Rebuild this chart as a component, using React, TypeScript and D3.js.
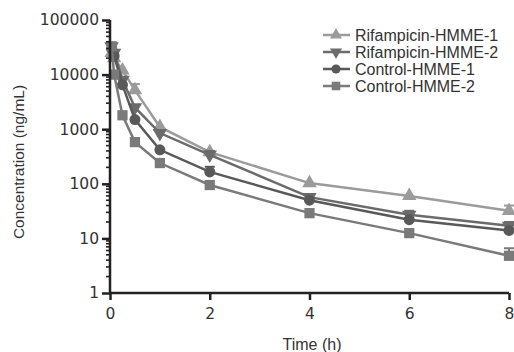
import React, { useRef, useEffect } from 'react';
import * as d3 from 'd3';

const times = [0.033, 0.083, 0.25, 0.5, 1, 2, 4, 6, 8];
const seriesNames = ['Rifampicin-HMME-1', 'Rifampicin-HMME-2', 'Control-HMME-1', 'Control-HMME-2'];
const rif1 = [25000, 20000, 12000, 5200, 1100, 380, 103, 60, 32];
const rif2 = [33000, 25000, 8000, 2500, 850, 340, 57, 27, 17];
const ctrl1 = [30000, 22000, 6500, 1500, 420, 165, 50, 22, 14];
const ctrl2 = [33000, 10000, 1800, 580, 240, 95, 29, 12.5, 4.8];
// upper error (SD)
const rif1Sd = [0, 0, 0, 1500, 0, 0, 0, 0, 8];
const rif2Sd = [0, 0, 0, 0, 0, 60, 8, 5, 3];
const ctrl1Sd = [0, 0, 0, 0, 0, 40, 0, 0, 0];
const ctrl2Sd = [0, 0, 0, 0, 0, 0, 0, 0, 1.8];
const xTicks = [0, 2, 4, 6, 8];
const yTicks = [1, 10, 100, 1000, 10000, 100000];

const Chart = () => {
  const svgRef = useRef(null);
  const W = 514, H = 352;
  const margin = { top: 20, right: 4, bottom: 59, left: 110 };

  useEffect(() => {
    const svg = d3.select(svgRef.current);
    svg.selectAll('*').remove();
    const font = 'Liberation Sans, Arial, sans-serif';
    const numFont = 'DejaVu Sans, sans-serif';

    const x = d3.scaleLinear().domain([0, 8]).range([margin.left, 509]);
    const y = d3.scaleLog().domain([1, 100000]).range([293, margin.top]);

    const colors = ['#9b9b9b', '#6b6b6b', '#595959', '#7a7a7a'];
    const symbols = [d3.symbolTriangle, d3.symbolTriangle, d3.symbolCircle, d3.symbolSquare];
    const rotations = [0, 180, 0, 0];
    const sizes = [90, 90, 95, 105];
    const data = [rif1, rif2, ctrl1, ctrl2];
    const sds = [rif1Sd, rif2Sd, ctrl1Sd, ctrl2Sd];

    const line = d3.line<number>()
      .x((d, i) => x(times[i]))
      .y(d => y(d));

    // series
    data.forEach((vals, s) => {
      const g = svg.append('g');
      g.append('path')
        .attr('d', line(vals))
        .attr('fill', 'none')
        .attr('stroke', colors[s])
        .attr('stroke-width', 2.5);
      vals.forEach((v, i) => {
        if (sds[s][i] > 0) {
          const x0 = x(times[i]);
          g.append('line').attr('x1', x0).attr('x2', x0)
            .attr('y1', y(v)).attr('y2', y(v + sds[s][i]))
            .attr('stroke', colors[s]).attr('stroke-width', 2);
          g.append('line').attr('x1', x0 - 5).attr('x2', x0 + 5)
            .attr('y1', y(v + sds[s][i])).attr('y2', y(v + sds[s][i]))
            .attr('stroke', colors[s]).attr('stroke-width', 2);
        }
      });
      g.selectAll('path.pt')
        .data(vals)
        .enter()
        .append('path')
        .attr('class', 'pt')
        .attr('d', d3.symbol().type(symbols[s]).size(sizes[s]))
        .attr('transform', (d, i) => `translate(${x(times[i])},${y(d)}) rotate(${rotations[s]})`)
        .attr('fill', colors[s]);
    });

    // y axis
    const yAxis = d3.axisLeft(y)
      .tickValues(yTicks)
      .tickFormat(d3.format('d'))
      .tickSize(8);
    const ya = svg.append('g')
      .attr('transform', `translate(${margin.left},0)`)
      .call(yAxis);
    const minor: number[] = [];
    for (let e = 0; e < 5; e++) {
      for (let k = 2; k <= 9; k++) minor.push(k * Math.pow(10, e));
    }
    ya.selectAll('line.minor')
      .data(minor)
      .enter()
      .append('line')
      .attr('class', 'minor')
      .attr('x1', -4).attr('x2', 0)
      .attr('y1', d => y(d)).attr('y2', d => y(d))
      .attr('stroke', '#222').attr('stroke-width', 1.6);
    ya.select('.domain').attr('stroke', '#222').attr('stroke-width', 2.5).attr('d', `M0,${y(1)}V${y(100000)}`);
    ya.selectAll('.tick line').attr('stroke', '#222').attr('stroke-width', 2.5);
    ya.selectAll('.tick text')
      .attr('font-family', numFont).attr('font-size', 15.5).attr('fill', '#333').attr('x', -11);

    // x axis
    const xAxis = d3.axisBottom(x).tickValues(xTicks).tickSize(7);
    const xa = svg.append('g')
      .attr('transform', `translate(0,293)`)
      .call(xAxis);
    xa.select('.domain').attr('stroke', '#222').attr('stroke-width', 2.5).attr('d', `M${margin.left - 1},0H${x(8)}`);
    xa.selectAll('.tick line').attr('stroke', '#222').attr('stroke-width', 2.5);
    xa.selectAll('.tick text')
      .attr('font-family', numFont).attr('font-size', 15.5).attr('fill', '#333').attr('y', 15);

    // axis titles
    svg.append('text')
      .attr('x', 312).attr('y', 350)
      .attr('text-anchor', 'middle')
      .attr('font-family', font).attr('font-size', 16).attr('fill', '#333')
      .text('Time (h)');
    svg.append('text')
      .attr('transform', 'translate(24,162) rotate(-90)')
      .attr('text-anchor', 'middle')
      .attr('font-family', font).attr('font-size', 15.5).attr('fill', '#333')
      .text('Concentration (ng/mL)');

    // legend
    const leg = svg.append('g');
    seriesNames.forEach((name, s) => {
      const ly = 35 + s * 17;
      leg.append('line').attr('x1', 323).attr('x2', 350)
        .attr('y1', ly).attr('y2', ly)
        .attr('stroke', colors[s]).attr('stroke-width', 2.5);
      leg.append('path')
        .attr('d', d3.symbol().type(symbols[s]).size(sizes[s] * 0.7))
        .attr('transform', `translate(336,${ly}) rotate(${rotations[s]})`)
        .attr('fill', colors[s]);
      leg.append('text')
        .attr('x', 355).attr('y', ly + 5.5)
        .attr('font-family', font).attr('font-size', 16).attr('fill', '#333')
        .text(name);
    });
  }, []);

  return (
    <svg ref={svgRef} width={W} height={H}
      style={{ position: 'absolute', left: 0, top: 0, background: '#fff' }} />
  );
};

export default function App() {
  return <Chart />;
}
